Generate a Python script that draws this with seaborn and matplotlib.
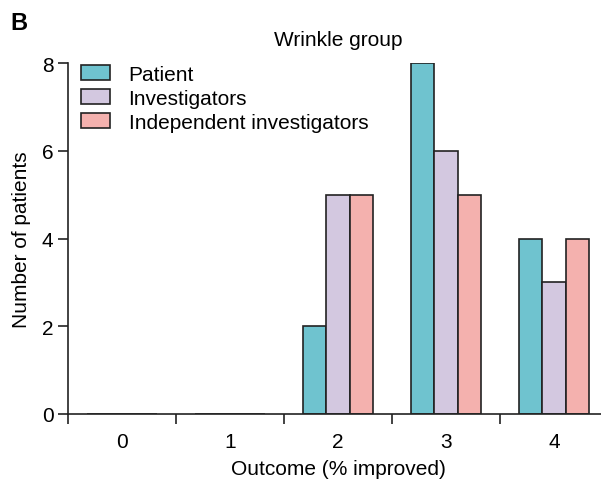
import pandas as pd
import numpy as np
import matplotlib
matplotlib.use('Agg')
import matplotlib.pyplot as plt
import seaborn as sns

# ---- dados ----
outcomes = ['0', '1', '2', '3', '4']
patient = [0, 0, 2, 8, 4]
investigators = [0, 0, 5, 6, 3]
independent = [0, 0, 5, 5, 4]
series_names = ['Patient', 'Investigators', 'Independent investigators']
cores = ['#6FC3CF', '#D3C8E0', '#F4B1AE']

df = pd.DataFrame({
    'Outcome': outcomes * 3,
    'Count': patient + investigators + independent,
    'Group': sum([[n] * len(outcomes) for n in series_names], []),
})

sns.set_style('ticks')
plt.rcParams['font.family'] = ['Liberation Sans', 'DejaVu Sans']
plt.rcParams.update({'text.color': 'black', 'axes.labelcolor': 'black',
                     'xtick.color': 'black', 'ytick.color': 'black'})

fig = plt.figure(figsize=(6.01, 4.81), dpi=100)
ax = fig.add_axes([68 / 601, 66 / 481, 540 / 601, 351 / 481])

sns.barplot(data=df, x='Outcome', y='Count', hue='Group', order=outcomes,
            hue_order=series_names, palette=cores, width=0.64, gap=0,
            edgecolor='#222222', linewidth=1.2, saturation=1, ax=ax)

ax.set_xlim(-0.5, 4.5)
ax.set_ylim(0, 8)
ax.set_yticks([0, 2, 4, 6, 8])
ax.set_xticks(np.arange(-0.5, 4.6, 1.0))
ax.set_xticklabels([])
ax.set_xticks(range(len(outcomes)), minor=True)
ax.set_xticklabels(outcomes, minor=True)
ax.tick_params(axis='x', which='minor', length=0, pad=13, labelsize=15)
ax.tick_params(axis='both', which='major', direction='out', length=7, width=1.2,
               labelsize=15, color='#222222')
for s in ['left', 'bottom']:
    ax.spines[s].set_linewidth(1.2)
    ax.spines[s].set_color('#222222')
sns.despine(ax=ax)

ax.set_xlabel('Outcome (% improved)', fontsize=15, labelpad=6)
ax.set_ylabel('Number of patients', fontsize=15, labelpad=8)
ax.set_title('Wrinkle group', fontsize=15, pad=13)

leg = ax.legend(loc='upper left', bbox_to_anchor=(-0.016, 1.058), frameon=False,
                fontsize=15, handlelength=1.4, handleheight=0.77, labelspacing=0.24,
                handletextpad=0.87, borderaxespad=0.65)
for h in leg.legend_handles:
    h.set_edgecolor('#222222')
    h.set_linewidth(1.2)

fig.text(10 / 601, 1 - 23 / 481, 'B', fontsize=17, fontweight='bold', va='center')

fig.savefig('out.png', dpi=100)
